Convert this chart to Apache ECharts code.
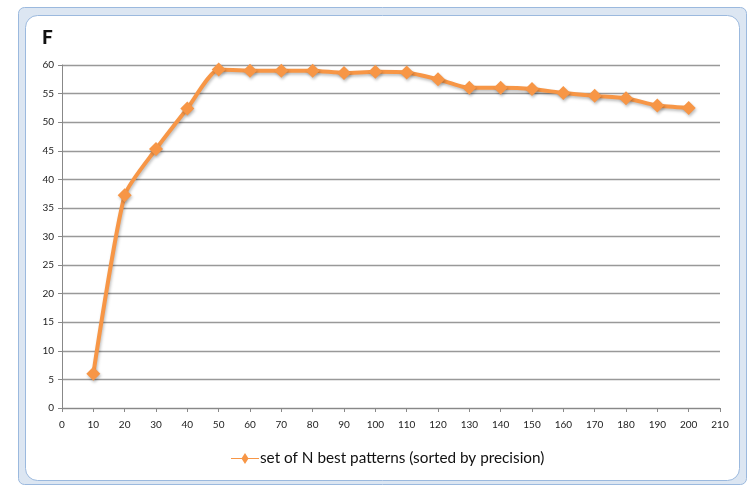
<!DOCTYPE html>
<html><head><meta charset="utf-8">
<script src="https://cdn.jsdelivr.net/npm/echarts@6/dist/echarts.min.js"></script>
<style>html,body{margin:0;padding:0;background:#fff}#c{width:755px;height:488px}</style>
</head><body><div id="c"></div>
<script>
const xValues = [10,20,30,40,50,60,70,80,90,100,110,120,130,140,150,160,170,180,190,200];
const fValues = [6.0,37.2,45.3,52.4,59.2,59.0,59.0,59.0,58.6,58.8,58.7,57.5,56.0,56.0,55.8,55.1,54.6,54.2,52.9,52.5];
const seriesName = 'set of N best patterns (sorted by precision)';
const chartTitle = 'F';

const chart = echarts.init(document.getElementById('c'));
const orange = '#F79646';
chart.setOption({
  animation: false,
  backgroundColor: '#fff',
  graphic: [
    {type:'rect', shape:{x:18.5,y:7.5,width:728,height:477,r:6}, style:{fill:'#dce6f2',stroke:'#9bb9de',lineWidth:1}, z:-10},
    {type:'rect', shape:{x:25.5,y:15.5,width:714,height:465,r:12}, style:{fill:'#fff',stroke:'#9bb9de',lineWidth:1}, z:-9}
  ],
  title: {text: chartTitle, left: 37, top: 23, textStyle:{fontFamily:'Lato, sans-serif', fontWeight:900, fontSize:19, color:'#111'}},
  legend: {
    bottom: 17, left: 226, itemWidth: 28, itemHeight: 11, itemGap: 0,
    textStyle:{fontFamily:'Lato, sans-serif', fontSize:15.3, color:'#111', padding:[0,0,0,-4]},
    data:[{name: seriesName, icon:'path://M0,4.5 L10,4.5 L13,0 L16,4.5 L26,4.5 L26,5.5 L16,5.5 L13,10 L10,5.5 L0,5.5 Z'}]
  },
  grid: {left: 62, right: 35, top: 65, bottom: 80, containLabel: false},
  xAxis: {
    type: 'value', min: 0, max: 210, interval: 10,
    axisLine:{show:true, lineStyle:{color:'#888', width:1}},
    axisTick:{show:true, length:4, lineStyle:{color:'#888'}},
    axisLabel:{color:'#222', fontSize:10, fontFamily:'Lato, sans-serif', margin:12},
    splitLine:{show:false}
  },
  yAxis: {
    type: 'value', min: 0, max: 60, interval: 5,
    axisLine:{show:true, lineStyle:{color:'#888', width:1}},
    axisTick:{show:true, length:4, lineStyle:{color:'#888'}},
    axisLabel:{color:'#222', fontSize:10, fontFamily:'Lato, sans-serif', margin:8},
    splitLine:{show:true, lineStyle:{color:'#999', width:1.3}}
  },
  series: [{
    name: seriesName, type: 'line', smooth: 0.2,
    data: xValues.map((x,i)=>[x,fValues[i]]),
    symbol: 'diamond', symbolSize: 14,
    lineStyle:{color:orange, width:4, shadowColor:'rgba(0,0,0,0.25)', shadowBlur:3, shadowOffsetX:1, shadowOffsetY:2},
    itemStyle:{color:orange, shadowColor:'rgba(0,0,0,0.25)', shadowBlur:3, shadowOffsetX:1, shadowOffsetY:2}
  }]
});
</script></body></html>
